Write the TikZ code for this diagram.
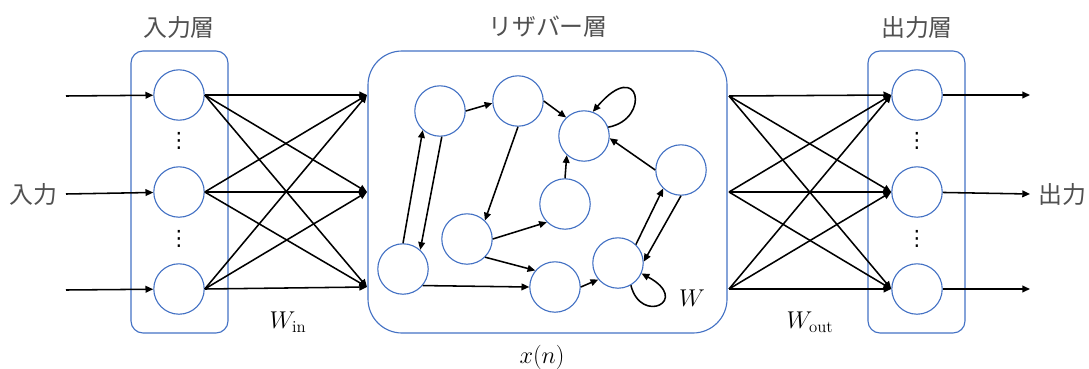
\documentclass[tikz,border=0pt]{standalone}
\usepackage{fontspec}
\usepackage{amsmath}
\usepackage{tikz}
\usetikzlibrary{positioning, arrows.meta}
\newfontfamily\jpfont{Noto Sans CJK JP}
\newfontfamily\symfont{DejaVu Sans}
\definecolor{nodeblue}{RGB}{68,114,196}
\definecolor{labelgray}{RGB}{80,80,80}

\begin{document}
\begin{tikzpicture}[
    x=0.025cm, y=-0.025cm,
    neuron/.style={draw=nodeblue, circle, line width=0.8pt, minimum size=1.26cm, inner sep=0pt},
    layerbox/.style={draw=nodeblue, line width=0.8pt, rounded corners=0.3cm},
    conn/.style={draw, -{Triangle[length=5.5pt, width=4.8pt]}, line width=1.1pt},
    jplabel/.style={font=\jpfont\fontsize{17}{20}\selectfont, text=labelgray, inner sep=0pt},
    mathlabel/.style={font=\fontsize{17}{20}\selectfont, inner sep=0pt},
    dotlabel/.style={font=\symfont\fontsize{15}{18}\selectfont, inner sep=0pt}
]
\useasboundingbox (0,0) rectangle (1089,368);

\draw[layerbox] (131,51) rectangle (228,333);
\draw[layerbox, rounded corners=0.85cm] (368,51) rectangle (727,333);
\draw[layerbox] (868,51) rectangle (965,333);

\node[jplabel] (inlayer) at (179,27) {入力層};
\node[jplabel] (reslayer) at (548,27) {リザバー層};
\node[jplabel] (outlayer) at (917,27) {出力層};
\node[jplabel, anchor=east] (inlabel) at (58,194) {入力};
\node[jplabel, anchor=west] (outlabel) at (1038,194) {出力};

\node[neuron] (in1) at (179,95) {};
\node[neuron] (in2) at (179,192) {};
\node[neuron] (in3) at (179,289) {};
\node[neuron] (out1) at (917,95) {};
\node[neuron] (out2) at (917,192) {};
\node[neuron] (out3) at (917,289) {};
\node[dotlabel] (indots1) at (179,141) {⋮};
\node[dotlabel] (indots2) at (179,239) {⋮};
\node[dotlabel] (outdots1) at (917,141) {⋮};
\node[dotlabel] (outdots2) at (917,239) {⋮};

\coordinate (src1) at (66,96);
\coordinate (src2) at (66,194);
\coordinate (src3) at (66,290);
\coordinate (dst1) at (1030,95);
\coordinate (dst2) at (1030,194);
\coordinate (dst3) at (1030,289);
\coordinate (rl1) at (367,95);
\coordinate (rl2) at (367,192);
\coordinate (rl3) at (367,287);
\coordinate (rr1) at (729,96);
\coordinate (rr2) at (729,192);
\coordinate (rr3) at (729,289);

\foreach \i in {1,2,3} {
    \draw[conn] (src\i) -- (in\i);
    \draw[conn] (out\i) -- (dst\i);
    \foreach \j in {1,2,3} {
        \draw[conn] (in\i.east) -- (rl\j);
        \draw[conn] (rr\i) -- (out\j.west);
    }
}

\node[neuron] (A) at (440,111) {};
\node[neuron] (B) at (518,101) {};
\node[neuron] (C) at (584,136) {};
\node[neuron] (D) at (681,170) {};
\node[neuron] (E) at (565,204) {};
\node[neuron] (F) at (467,239) {};
\node[neuron] (G) at (403,269) {};
\node[neuron] (H) at (555,287) {};
\node[neuron] (I) at (618,263) {};

\draw[conn] (G.90) -- (A.228);
\draw[conn] (A.274) -- (G.48);
\draw[conn] (A.0) -- (B.185);
\draw[conn] (B.0) -- (C.134);
\draw[conn] (B.270) -- (F.46);
\draw[conn] (F.0) -- (E.225);
\draw[conn] (E.90) -- (C.228);
\draw[conn] (F.-45) -- (H.140);
\draw[conn] (G.-40) -- (H.180);
\draw[conn] (H.0) -- (I.220);
\draw[conn] (I.46) -- (D.226);
\draw[conn] (D.270) -- (I.3);
\draw[conn] (D.180) -- (C.-5);
\draw[conn] (C.20) .. controls +(43,-8) and +(47,-55) .. (C.70);
\draw[conn] (I.-60) .. controls +(10,40) and +(50,27) .. (I.-24);

\node[mathlabel] (wres) at (692,298) {$W$};
\node[mathlabel] (win) at (288,322) {$W_{\text{in}}$};
\node[mathlabel] (wout) at (810,322) {$W_{\text{out}}$};
\node[mathlabel] (state) at (542,357) {$x(n)$};
\end{tikzpicture}
\end{document}
